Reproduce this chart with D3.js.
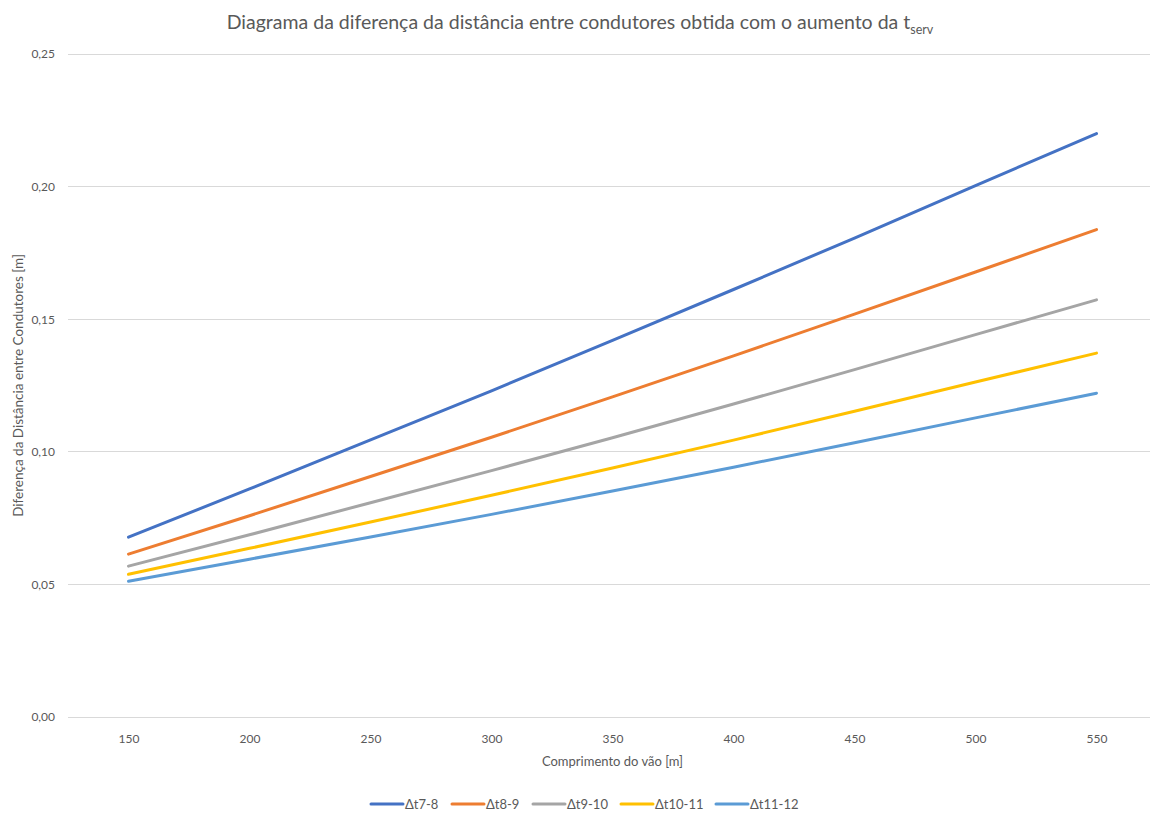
<!DOCTYPE html>
<html>
<head>
<meta charset="utf-8">
<script src="https://cdn.jsdelivr.net/npm/d3@7"></script>
<style>
  html, body { margin: 0; padding: 0; background: #fff; }
  svg { display: block; font-family: Lato, "Open Sans", sans-serif; }
</style>
</head>
<body>
<svg id="chart" width="1150" height="814"></svg>
<script>
// Span lengths (m)
const spans = [150, 200, 250, 300, 350, 400, 450, 500, 550];

// Difference in conductor spacing (m) for each service-temperature step
const dt7_8   = [0.0678, 0.0860, 0.1045, 0.1230, 0.1420, 0.1612, 0.1806, 0.2004, 0.2200];
const dt8_9   = [0.0614, 0.0759, 0.0907, 0.1055, 0.1207, 0.1362, 0.1519, 0.1678, 0.1838];
const dt9_10  = [0.0569, 0.0687, 0.0808, 0.0929, 0.1053, 0.1180, 0.1310, 0.1442, 0.1573];
const dt10_11 = [0.0538, 0.0636, 0.0735, 0.0836, 0.0939, 0.1044, 0.1153, 0.1263, 0.1372];
const dt11_12 = [0.0512, 0.0595, 0.0679, 0.0764, 0.0852, 0.0942, 0.1034, 0.1128, 0.1221];

const seriesNames = ["Δt7-8", "Δt8-9", "Δt9-10", "Δt10-11", "Δt11-12"];
const seriesValues = [dt7_8, dt8_9, dt9_10, dt10_11, dt11_12];
const colors = ["#4472C4", "#ED7D31", "#A5A5A5", "#FFC000", "#5B9BD5"];

const yTicks = [0, 0.05, 0.10, 0.15, 0.20, 0.25];

const svg = d3.select("#chart");
const plotLeft = 68, plotRight = 1157, plotTop = 54, plotBottom = 717;

const x = d3.scalePoint().domain(spans).range([plotLeft, plotRight]).padding(0.5);
const y = d3.scaleLinear().domain([0, 0.25]).range([plotBottom, plotTop]);

const fmt = v => d3.format(".2f")(v).replace(".", ",");

// Horizontal gridlines
svg.append("g")
  .selectAll("line")
  .data(yTicks)
  .join("line")
  .attr("x1", plotLeft).attr("x2", plotRight)
  .attr("y1", d => y(d)).attr("y2", d => y(d))
  .attr("stroke", "#d9d9d9").attr("stroke-width", 1)
  .attr("shape-rendering", "crispEdges");

// Y axis labels
const yAxis = svg.append("g")
  .attr("transform", `translate(${plotLeft - 13},0)`)
  .call(d3.axisLeft(y).tickValues(yTicks).tickFormat(fmt).tickSize(0).tickPadding(0));
yAxis.select(".domain").remove();
yAxis.selectAll("text")
  .attr("fill", "#595959").attr("font-size", 12).attr("font-family", "Lato, sans-serif");

// X axis labels
const xAxis = svg.append("g")
  .attr("transform", `translate(0,${plotBottom + 17})`)
  .call(d3.axisBottom(x).tickSize(0).tickPadding(0));
xAxis.select(".domain").remove();
xAxis.selectAll("text")
  .attr("fill", "#595959").attr("font-size", 12).attr("font-family", "Lato, sans-serif");

// Series lines
const line = d3.line()
  .x((d, i) => x(spans[i]))
  .y(d => y(d));

svg.append("g")
  .selectAll("path")
  .data(seriesValues)
  .join("path")
  .attr("d", d => line(d))
  .attr("fill", "none")
  .attr("stroke", (d, i) => colors[i])
  .attr("stroke-width", 3)
  .attr("stroke-linecap", "round")
  .attr("stroke-linejoin", "round");

// Title with subscript
const title = svg.append("text")
  .attr("x", 580).attr("y", 29)
  .attr("text-anchor", "middle")
  .attr("fill", "#595959")
  .attr("font-size", 19.5)
  .attr("font-family", "Lato, sans-serif")
  .attr("font-weight", 400);
title.append("tspan").text("Diagrama da diferença da distância entre condutores obtida com o aumento da t");
title.append("tspan").attr("dy", 5).attr("font-size", 12.5).text("serv");

// Axis titles
svg.append("text")
  .attr("x", (plotLeft + plotRight) / 2).attr("y", 766)
  .attr("text-anchor", "middle")
  .attr("fill", "#595959").attr("font-size", 13)
  .text("Comprimento do vão [m]");

svg.append("text")
  .attr("transform", `translate(23,${(plotTop + plotBottom) / 2}) rotate(-90)`)
  .attr("text-anchor", "middle")
  .attr("fill", "#595959").attr("font-size", 13.5)
  .text("Diferença da Distância entre Condutores [m]");

// Legend
const legendX = [371, 452, 533, 621, 716];
const legend = svg.append("g")
  .selectAll("g")
  .data(seriesNames)
  .join("g")
  .attr("transform", (d, i) => `translate(${legendX[i]},804)`);
legend.append("line")
  .attr("x1", 0).attr("x2", 32).attr("y1", 0).attr("y2", 0)
  .attr("stroke", (d, i) => colors[i]).attr("stroke-width", 3)
  .attr("stroke-linecap", "round");
legend.append("text")
  .attr("x", 34).attr("y", 4.5)
  .attr("fill", "#595959").attr("font-size", 13)
  .text(d => d);
</script>
</body>
</html>
